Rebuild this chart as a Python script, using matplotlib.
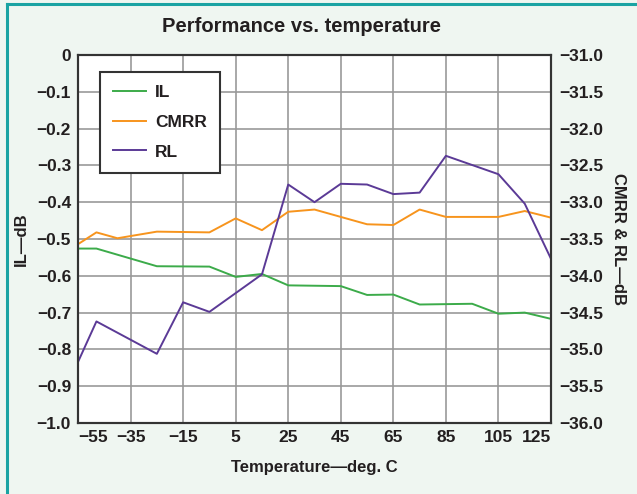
import matplotlib
matplotlib.use("Agg")
import matplotlib.pyplot as plt
from matplotlib.lines import Line2D

# values
il_temp = [-55, -48, -25, -5, 5, 15, 25, 45, 55, 65, 75, 95, 105, 115, 125]
il_db = [-0.526, -0.526, -0.574, -0.575, -0.603, -0.595, -0.626, -0.628,
         -0.652, -0.651, -0.678, -0.676, -0.703, -0.700, -0.717]

cmrr_temp = [-55, -48, -40, -25, -5, 5, 15, 25, 35, 45, 55, 65, 75, 85, 105, 115, 125]
cmrr_db = [-33.57, -33.41, -33.49, -33.40, -33.41, -33.22, -33.38, -33.13, -33.10,
           -33.20, -33.30, -33.31, -33.10, -33.20, -33.20, -33.12, -33.21]

rl_temp = [-55, -48, -25, -15, -5, 15, 25, 35, 45, 55, 65, 75, 85, 105, 115, 125]
rl_db = [-35.17, -34.62, -35.06, -34.36, -34.49, -33.98, -32.76, -33.00, -32.75,
         -32.76, -32.89, -32.87, -32.37, -32.62, -33.02, -33.77]

x_ticks = [-55, -35, -15, 5, 25, 45, 65, 85, 105, 125]
x_grid = [-35, -15, 5, 25, 45, 65, 85, 105]
left_ticks = [0, -0.1, -0.2, -0.3, -0.4, -0.5, -0.6, -0.7, -0.8, -0.9, -1.0]
left_labels = ["0", "\u22120.1", "\u22120.2", "\u22120.3", "\u22120.4", "\u22120.5",
               "\u22120.6", "\u22120.7", "\u22120.8", "\u22120.9", "\u22121.0"]
right_ticks = [-31.0, -31.5, -32.0, -32.5, -33.0, -33.5, -34.0, -34.5, -35.0, -35.5, -36.0]

GREEN = "#3cab4a"
ORANGE = "#f7941d"
PURPLE = "#5b3a96"
BG = "#eff6f1"
TEAL = "#1aa3a3"
TXT = "#231f20"

plt.rcParams["font.family"] = ["Liberation Sans", "DejaVu Sans"]
plt.rcParams["font.weight"] = "bold"

fig = plt.figure(figsize=(6.37, 4.94), dpi=100, facecolor=BG)
ax = fig.add_axes([0.1225, 0.1437, 0.7425, 0.745])
ax.set_facecolor("white")
ax2 = ax.twinx()

ax.plot(il_temp, il_db, color=GREEN, lw=1.4)
ax2.plot(cmrr_temp, cmrr_db, color=ORANGE, lw=1.4)
ax2.plot(rl_temp, rl_db, color=PURPLE, lw=1.4)

ax.set_xlim(-55, 125)
ax.set_ylim(-1.0, 0)
ax2.set_ylim(-36.0, -31.0)

for x in x_grid:
    ax.axvline(x, color="#999999", lw=1.2, zorder=0)
for y in left_ticks[1:-1]:
    ax.axhline(y, color="#999999", lw=1.2, zorder=0)

ax.set_xticks(x_ticks)
ax.set_xticklabels(["\u221255", "\u221235", "\u221215", "5", "25", "45", "65", "85", "105", "125"])
xl = ax.get_xticklabels()
xl[0].set_horizontalalignment("left")
xl[-1].set_horizontalalignment("right")
ax.set_yticks(left_ticks)
ax.set_yticklabels(left_labels)
ax2.set_yticks(right_ticks)
ax2.set_yticklabels(["\u2212%.1f" % abs(v) for v in right_ticks])

ax.tick_params(length=0, labelsize=12.5, colors=TXT, pad=5)
ax2.tick_params(length=0, labelsize=12.5, colors=TXT, pad=6)
for a in (ax, ax2):
    for s in a.spines.values():
        s.set_color("#333333")
        s.set_linewidth(1.5)

ax.set_xlabel("Temperature\u2014deg. C", fontsize=12, fontweight="bold", color=TXT, labelpad=11)
ax.set_ylabel("IL\u2014dB", fontsize=12, fontweight="bold", color=TXT, labelpad=6)
ax2.set_ylabel("CMRR & RL\u2014dB", fontsize=12, fontweight="bold", color=TXT,
               rotation=270, labelpad=16)
fig.text(0.473, 0.946, "Performance vs. temperature", ha="center", va="center",
         fontsize=14.5, fontweight="bold", color=TXT)

handles = [Line2D([], [], color=GREEN, lw=1.4),
           Line2D([], [], color=ORANGE, lw=1.4),
           Line2D([], [], color=PURPLE, lw=1.4)]
leg = ax2.legend(handles, ["IL", "CMRR", "RL"], loc="upper left",
                 bbox_to_anchor=(0.047, 0.955), frameon=True, fancybox=False,
                 fontsize=12.5, handlelength=1.9, labelspacing=0.85,
                 borderpad=0.75, handletextpad=0.5, borderaxespad=0)
leg.get_frame().set_edgecolor("#333333")
leg.get_frame().set_linewidth(1.5)
leg.get_frame().set_facecolor("white")
leg.get_frame().set_alpha(1)
for t in leg.get_texts():
    t.set_color(TXT)
    t.set_fontweight("bold")

# teal border on top and left
fig.add_artist(Line2D([0.0115, 0.0115], [0, 0.992], color=TEAL, lw=2.2, transform=fig.transFigure))
fig.add_artist(Line2D([0.0115, 1], [0.992, 0.992], color=TEAL, lw=2.2, transform=fig.transFigure))

fig.savefig("out.png", dpi=100, facecolor=BG)
